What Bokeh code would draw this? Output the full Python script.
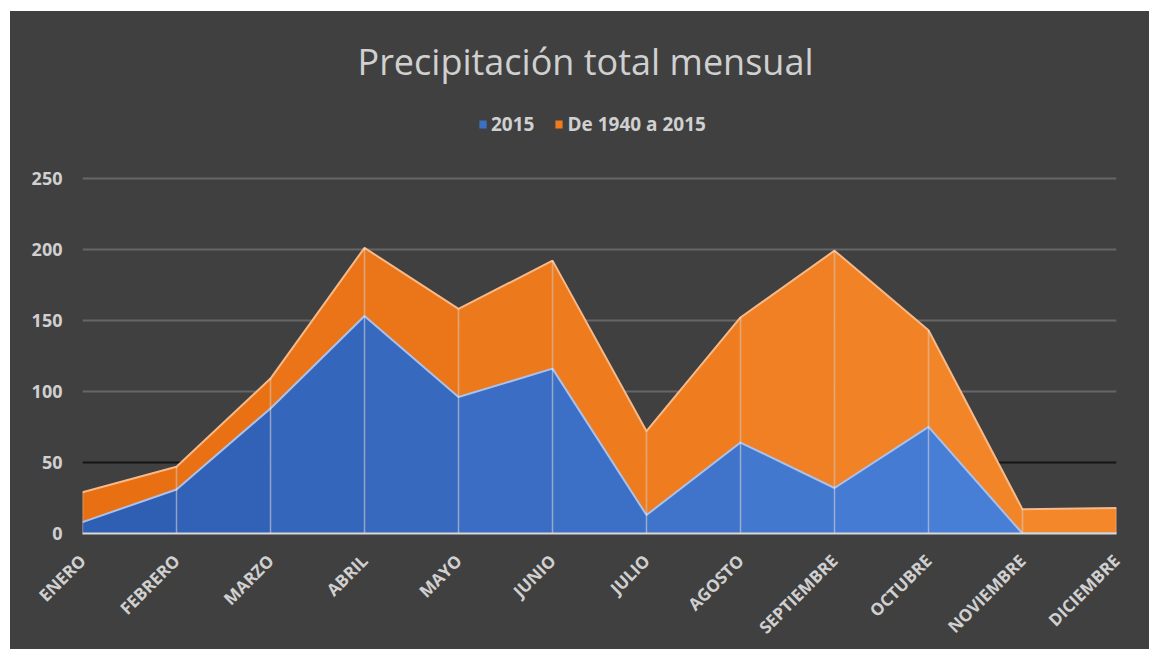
import math
from bokeh.plotting import figure
from bokeh.layouts import column, row
from bokeh.models import (Range1d, FixedTicker, Span, Legend, LegendItem, Label,
                          ColumnDataSource, Spacer)
from bokeh.embed import file_html
from bokeh.resources import INLINE

# ---- data ----
months = ["ENERO", "FEBRERO", "MARZO", "ABRIL", "MAYO", "JUNIO", "JULIO",
          "AGOSTO", "SEPTIEMBRE", "OCTUBRE", "NOVIEMBRE", "DICIEMBRE"]
lluvia_2015 = [8, 31, 88, 153, 96, 116, 13, 64, 32, 75, 0, 0]
lluvia_1940_2015 = [29, 47, 109, 201, 158, 192, 72, 152, 199, 143, 17, 18]
y_ticks = [0, 50, 100, 150, 200, 250]
title_text = "Precipitación total mensual"
series_names = ["2015", "De 1940 a 2015"]

BG = "#404040"
TXT = "#d0d0d0"
FONT = "Open Sans"


def ramp(c0, c1, n):
    a = [int(c0[i:i + 2], 16) for i in (1, 3, 5)]
    b = [int(c1[i:i + 2], 16) for i in (1, 3, 5)]
    out = []
    for k in range(n):
        t = k / max(n - 1, 1)
        out.append("#" + "".join("%02x" % round(a[j] + (b[j] - a[j]) * t) for j in range(3)))
    return out


xs = list(range(len(months)))
n_seg = len(xs) - 1
blue_steps = ramp("#2f5fb3", "#4a82da", n_seg)
orange_steps = ramp("#e86f12", "#f3872a", n_seg)

src = ColumnDataSource(dict(x=xs, a=lluvia_2015, h=lluvia_1940_2015,
                            zero=[0] * len(xs)))

p = figure(width=1139, height=638, output_backend="svg", toolbar_location=None,
           x_range=Range1d(0, len(months) - 1), y_range=Range1d(0, 367.3),
           min_border_left=72, min_border_right=33, min_border_top=0,
           min_border_bottom=115)
p.background_fill_color = BG
p.border_fill_color = BG
p.outline_line_color = None
p.styles = {"background-color": BG}

# areas (overlapping, not stacked), filled month by month for a soft gradient
r_h = []
for i in range(n_seg):
    r_h.append(p.varea(x=xs[i:i + 2], y1=[0, 0], y2=lluvia_1940_2015[i:i + 2],
                       fill_color=orange_steps[i]))
p.line(x="x", y="h", source=src, line_color="#f7b987", line_width=2)
r_a = []
for i in range(n_seg):
    r_a.append(p.varea(x=xs[i:i + 2], y1=[0, 0], y2=lluvia_2015[i:i + 2],
                       fill_color=blue_steps[i]))
p.line(x="x", y="a", source=src, line_color="#a9c1ee", line_width=2)
p.segment(x0="x", y0="zero", x1="x", y1="h", source=src, line_color="white",
          line_alpha=0.4, line_width=1.5)

# grid
p.xgrid.visible = False
p.ygrid.ticker = FixedTicker(ticks=[t for t in y_ticks if t not in (0, 50)])
p.ygrid.grid_line_color = "#666666"
p.ygrid.grid_line_width = 2
p.add_layout(Span(location=y_ticks[1], dimension="width", level="underlay",
                  line_color="#141414", line_width=2))

# axes
p.yaxis.ticker = FixedTicker(ticks=y_ticks)
p.yaxis.axis_line_color = None
p.yaxis.major_tick_line_color = None
p.yaxis.minor_tick_line_color = None
p.yaxis.major_label_text_color = TXT
p.yaxis.major_label_text_font = FONT
p.yaxis.major_label_text_font_size = "18px"
p.yaxis.major_label_text_font_style = "bold"
p.yaxis.major_label_standoff = 14

p.xaxis.ticker = FixedTicker(ticks=xs)
p.xaxis.major_label_overrides = {i: m for i, m in enumerate(months)}
p.xaxis.major_label_orientation = math.pi / 4
p.xaxis.axis_line_color = "#d8d8d8"
p.xaxis.axis_line_width = 2
p.xaxis.major_tick_line_color = None
p.xaxis.minor_tick_line_color = None
p.xaxis.major_label_text_color = TXT
p.xaxis.major_label_text_font = FONT
p.xaxis.major_label_text_font_size = "17px"
p.xaxis.major_label_text_font_style = "bold"
p.xaxis.major_label_standoff = 18

# title
p.add_layout(Label(x=503, y=472, x_units="screen", y_units="screen",
                   text=title_text, text_align="center", text_baseline="middle",
                   text_color=TXT, text_font=FONT, text_font_size="36px"))

# legend
legend = Legend(items=[LegendItem(label=series_names[0], renderers=[r_a[5]]),
                       LegendItem(label=series_names[1], renderers=[r_h[5]])],
                orientation="horizontal", location=(396, 396),
                border_line_color=None, background_fill_alpha=0,
                label_text_color=TXT, label_text_font=FONT,
                label_text_font_size="19px", label_text_font_style="bold",
                glyph_width=9, glyph_height=10, spacing=20, label_standoff=4,
                padding=0, margin=0)
p.add_layout(legend, "center")

layout = column(Spacer(height=11), row(Spacer(width=10), p))
open("out.html", "w").write(file_html(layout, INLINE))
